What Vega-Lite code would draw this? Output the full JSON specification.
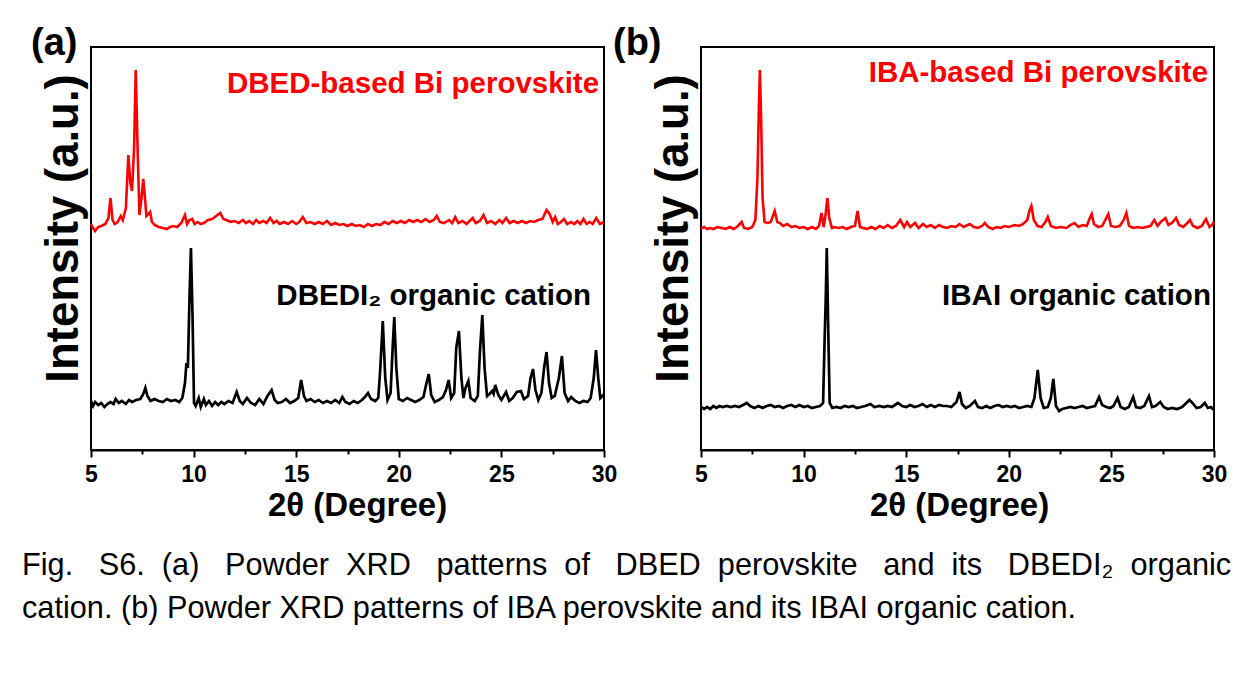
{
"$schema":"https://vega.github.io/schema/vega-lite/v6.json",
"background":"white",
"padding":{"left":22,"top":24,"right":10,"bottom":10},
"config":{"view":{"stroke":"black","strokeWidth":2},"font":"Liberation Sans","axis":{"grid":false}},
"datasets":{
"aRed":[{"x":5.0,"y":226},{"x":5.1,"y":222},{"x":5.2,"y":219},{"x":5.35,"y":223},{"x":5.5,"y":224},{"x":5.7,"y":226},{"x":5.85,"y":232},{"x":5.95,"y":252},{"x":6.05,"y":230},{"x":6.15,"y":226},{"x":6.3,"y":228},{"x":6.45,"y":234},{"x":6.55,"y":230},{"x":6.7,"y":242},{"x":6.82,"y":295},{"x":6.92,"y":267},{"x":7.0,"y":259},{"x":7.1,"y":302},{"x":7.18,"y":380},{"x":7.27,"y":302},{"x":7.36,"y":235},{"x":7.46,"y":252},{"x":7.55,"y":271},{"x":7.63,"y":252},{"x":7.7,"y":234},{"x":7.8,"y":236},{"x":7.88,"y":238},{"x":7.97,"y":228},{"x":8.1,"y":225},{"x":8.3,"y":223},{"x":8.5,"y":222},{"x":8.7,"y":221},{"x":8.85,"y":223},{"x":9.0,"y":224},{"x":9.2,"y":223},{"x":9.4,"y":227},{"x":9.58,"y":235},{"x":9.68,"y":226},{"x":9.8,"y":230},{"x":9.93,"y":231},{"x":10.05,"y":226},{"x":10.2,"y":228},{"x":10.35,"y":226},{"x":10.5,"y":227},{"x":10.7,"y":230},{"x":10.9,"y":231},{"x":11.1,"y":234},{"x":11.3,"y":237},{"x":11.45,"y":231},{"x":11.6,"y":230},{"x":11.8,"y":228},{"x":12.0,"y":229},{"x":12.2,"y":227},{"x":12.4,"y":230},{"x":12.55,"y":227},{"x":12.7,"y":229},{"x":12.9,"y":226},{"x":13.05,"y":230},{"x":13.2,"y":227},{"x":13.4,"y":229},{"x":13.55,"y":227},{"x":13.73,"y":232},{"x":13.9,"y":227},{"x":14.05,"y":229},{"x":14.2,"y":226},{"x":14.4,"y":228},{"x":14.6,"y":226},{"x":14.8,"y":229},{"x":15.0,"y":226},{"x":15.15,"y":228},{"x":15.32,"y":233},{"x":15.5,"y":227},{"x":15.7,"y":228},{"x":15.9,"y":226},{"x":16.1,"y":228},{"x":16.3,"y":226},{"x":16.5,"y":229},{"x":16.7,"y":225},{"x":16.9,"y":227},{"x":17.1,"y":225},{"x":17.3,"y":226},{"x":17.5,"y":224},{"x":17.7,"y":226},{"x":17.9,"y":224},{"x":18.1,"y":225},{"x":18.3,"y":223},{"x":18.5,"y":226},{"x":18.7,"y":224},{"x":18.9,"y":226},{"x":19.1,"y":225},{"x":19.3,"y":228},{"x":19.5,"y":226},{"x":19.7,"y":229},{"x":19.9,"y":227},{"x":20.1,"y":229},{"x":20.3,"y":227},{"x":20.5,"y":230},{"x":20.7,"y":228},{"x":20.9,"y":230},{"x":21.1,"y":228},{"x":21.3,"y":231},{"x":21.5,"y":228},{"x":21.7,"y":230},{"x":21.85,"y":234},{"x":22.0,"y":228},{"x":22.2,"y":227},{"x":22.45,"y":230},{"x":22.6,"y":227},{"x":22.75,"y":233},{"x":22.9,"y":227},{"x":23.1,"y":229},{"x":23.3,"y":226},{"x":23.45,"y":229},{"x":23.6,"y":232},{"x":23.75,"y":227},{"x":23.95,"y":229},{"x":24.13,"y":235},{"x":24.3,"y":227},{"x":24.5,"y":229},{"x":24.7,"y":226},{"x":24.9,"y":230},{"x":25.05,"y":227},{"x":25.23,"y":232},{"x":25.4,"y":227},{"x":25.6,"y":229},{"x":25.8,"y":227},{"x":26.0,"y":229},{"x":26.2,"y":227},{"x":26.4,"y":229},{"x":26.6,"y":228},{"x":26.8,"y":230},{"x":27.0,"y":231},{"x":27.2,"y":240},{"x":27.35,"y":236},{"x":27.5,"y":228},{"x":27.62,"y":233},{"x":27.75,"y":226},{"x":27.9,"y":228},{"x":28.05,"y":231},{"x":28.2,"y":226},{"x":28.4,"y":228},{"x":28.55,"y":226},{"x":28.7,"y":229},{"x":28.85,"y":226},{"x":29.0,"y":231},{"x":29.15,"y":226},{"x":29.3,"y":228},{"x":29.45,"y":226},{"x":29.62,"y":232},{"x":29.8,"y":226},{"x":30.0,"y":228}],
"aBlack":[{"x":5.0,"y":49},{"x":5.1,"y":44},{"x":5.2,"y":48},{"x":5.35,"y":45},{"x":5.5,"y":47},{"x":5.65,"y":43},{"x":5.8,"y":46},{"x":5.95,"y":48},{"x":6.1,"y":46},{"x":6.2,"y":51},{"x":6.35,"y":47},{"x":6.5,"y":49},{"x":6.7,"y":46},{"x":6.85,"y":50},{"x":7.0,"y":48},{"x":7.2,"y":50},{"x":7.4,"y":51},{"x":7.55,"y":56},{"x":7.65,"y":62},{"x":7.75,"y":54},{"x":7.9,"y":49},{"x":8.1,"y":51},{"x":8.3,"y":49},{"x":8.5,"y":48},{"x":8.7,"y":51},{"x":8.9,"y":49},{"x":9.1,"y":50},{"x":9.3,"y":48},{"x":9.45,"y":52},{"x":9.58,"y":67},{"x":9.65,"y":87},{"x":9.72,"y":82},{"x":9.8,"y":152},{"x":9.87,"y":202},{"x":9.95,"y":132},{"x":10.02,"y":47},{"x":10.1,"y":44},{"x":10.25,"y":52},{"x":10.35,"y":43},{"x":10.5,"y":51},{"x":10.6,"y":45},{"x":10.75,"y":49},{"x":10.9,"y":44},{"x":11.05,"y":48},{"x":11.2,"y":45},{"x":11.35,"y":48},{"x":11.5,"y":46},{"x":11.7,"y":49},{"x":11.9,"y":47},{"x":12.1,"y":58},{"x":12.25,"y":49},{"x":12.4,"y":46},{"x":12.6,"y":52},{"x":12.8,"y":47},{"x":13.0,"y":45},{"x":13.2,"y":51},{"x":13.4,"y":46},{"x":13.6,"y":54},{"x":13.8,"y":60},{"x":13.95,"y":50},{"x":14.1,"y":47},{"x":14.3,"y":48},{"x":14.5,"y":51},{"x":14.7,"y":47},{"x":14.9,"y":49},{"x":15.1,"y":52},{"x":15.24,"y":70},{"x":15.38,"y":54},{"x":15.5,"y":49},{"x":15.7,"y":51},{"x":15.9,"y":48},{"x":16.1,"y":50},{"x":16.3,"y":47},{"x":16.5,"y":49},{"x":16.7,"y":47},{"x":16.9,"y":50},{"x":17.1,"y":47},{"x":17.25,"y":53},{"x":17.4,"y":48},{"x":17.6,"y":46},{"x":17.8,"y":49},{"x":18.0,"y":47},{"x":18.2,"y":50},{"x":18.35,"y":53},{"x":18.5,"y":57},{"x":18.65,"y":51},{"x":18.85,"y":49},{"x":19.0,"y":52},{"x":19.1,"y":82},{"x":19.22,"y":129},{"x":19.34,"y":72},{"x":19.45,"y":50},{"x":19.6,"y":57},{"x":19.7,"y":102},{"x":19.78,"y":133},{"x":19.88,"y":82},{"x":20.0,"y":51},{"x":20.2,"y":49},{"x":20.4,"y":52},{"x":20.6,"y":50},{"x":20.8,"y":48},{"x":21.0,"y":50},{"x":21.2,"y":53},{"x":21.35,"y":67},{"x":21.46,"y":76},{"x":21.58,"y":55},{"x":21.75,"y":48},{"x":21.95,"y":50},{"x":22.15,"y":53},{"x":22.3,"y":60},{"x":22.43,"y":70},{"x":22.55,"y":52},{"x":22.7,"y":57},{"x":22.8,"y":102},{"x":22.93,"y":119},{"x":23.05,"y":72},{"x":23.15,"y":52},{"x":23.25,"y":62},{"x":23.39,"y":69},{"x":23.5,"y":52},{"x":23.7,"y":49},{"x":23.85,"y":54},{"x":23.95,"y":97},{"x":24.07,"y":135},{"x":24.18,"y":82},{"x":24.3,"y":54},{"x":24.42,"y":56},{"x":24.55,"y":59},{"x":24.62,"y":56},{"x":24.7,"y":65},{"x":24.85,"y":55},{"x":25.0,"y":50},{"x":25.23,"y":58},{"x":25.38,"y":49},{"x":25.55,"y":52},{"x":25.75,"y":58},{"x":25.95,"y":59},{"x":26.1,"y":51},{"x":26.3,"y":54},{"x":26.42,"y":72},{"x":26.54,"y":81},{"x":26.66,"y":60},{"x":26.8,"y":50},{"x":26.95,"y":57},{"x":27.08,"y":82},{"x":27.2,"y":98},{"x":27.32,"y":67},{"x":27.45,"y":52},{"x":27.6,"y":54},{"x":27.8,"y":72},{"x":27.95,"y":94},{"x":28.08,"y":57},{"x":28.25,"y":49},{"x":28.4,"y":53},{"x":28.6,"y":49},{"x":28.8,"y":47},{"x":29.0,"y":49},{"x":29.2,"y":48},{"x":29.35,"y":52},{"x":29.5,"y":72},{"x":29.61,"y":100},{"x":29.72,"y":72},{"x":29.82,"y":52},{"x":29.92,"y":54},{"x":30.0,"y":56}],
"bRed":[{"x":5.0,"y":221},{"x":5.15,"y":223},{"x":5.3,"y":221},{"x":5.45,"y":222},{"x":5.6,"y":221},{"x":5.8,"y":223},{"x":6.0,"y":222},{"x":6.2,"y":221},{"x":6.4,"y":223},{"x":6.6,"y":221},{"x":6.8,"y":224},{"x":6.98,"y":228},{"x":7.1,"y":222},{"x":7.3,"y":221},{"x":7.5,"y":223},{"x":7.65,"y":230},{"x":7.75,"y":272},{"x":7.82,"y":342},{"x":7.87,"y":380},{"x":7.93,"y":332},{"x":8.0,"y":252},{"x":8.1,"y":228},{"x":8.25,"y":227},{"x":8.4,"y":228},{"x":8.59,"y":239},{"x":8.72,"y":228},{"x":8.85,"y":227},{"x":9.0,"y":224},{"x":9.2,"y":226},{"x":9.4,"y":223},{"x":9.6,"y":224},{"x":9.8,"y":222},{"x":10.0,"y":223},{"x":10.2,"y":221},{"x":10.4,"y":223},{"x":10.6,"y":221},{"x":10.75,"y":224},{"x":10.87,"y":237},{"x":10.98,"y":223},{"x":11.08,"y":237},{"x":11.16,"y":252},{"x":11.25,"y":232},{"x":11.38,"y":222},{"x":11.5,"y":223},{"x":11.7,"y":222},{"x":11.9,"y":223},{"x":12.1,"y":221},{"x":12.3,"y":223},{"x":12.5,"y":224},{"x":12.63,"y":239},{"x":12.75,"y":223},{"x":12.9,"y":222},{"x":13.1,"y":221},{"x":13.3,"y":223},{"x":13.5,"y":221},{"x":13.7,"y":224},{"x":13.9,"y":222},{"x":14.1,"y":225},{"x":14.3,"y":222},{"x":14.5,"y":224},{"x":14.71,"y":230},{"x":14.9,"y":223},{"x":15.04,"y":228},{"x":15.2,"y":223},{"x":15.43,"y":227},{"x":15.6,"y":222},{"x":15.82,"y":226},{"x":16.0,"y":223},{"x":16.2,"y":225},{"x":16.4,"y":222},{"x":16.6,"y":225},{"x":16.8,"y":223},{"x":17.0,"y":222},{"x":17.2,"y":224},{"x":17.4,"y":223},{"x":17.6,"y":226},{"x":17.8,"y":223},{"x":18.0,"y":225},{"x":18.1,"y":226},{"x":18.3,"y":223},{"x":18.5,"y":222},{"x":18.7,"y":224},{"x":18.83,"y":227},{"x":19.0,"y":223},{"x":19.2,"y":221},{"x":19.4,"y":223},{"x":19.6,"y":222},{"x":19.8,"y":224},{"x":20.0,"y":223},{"x":20.29,"y":225},{"x":20.5,"y":224},{"x":20.7,"y":226},{"x":20.9,"y":230},{"x":21.0,"y":239},{"x":21.1,"y":244},{"x":21.22,"y":230},{"x":21.4,"y":224},{"x":21.6,"y":223},{"x":21.78,"y":228},{"x":21.9,"y":233},{"x":22.05,"y":224},{"x":22.3,"y":222},{"x":22.5,"y":223},{"x":22.81,"y":222},{"x":23.0,"y":225},{"x":23.2,"y":227},{"x":23.4,"y":223},{"x":23.6,"y":225},{"x":23.8,"y":224},{"x":23.95,"y":232},{"x":24.04,"y":236},{"x":24.15,"y":226},{"x":24.35,"y":223},{"x":24.55,"y":224},{"x":24.75,"y":232},{"x":24.85,"y":236},{"x":24.98,"y":224},{"x":25.2,"y":223},{"x":25.4,"y":224},{"x":25.6,"y":230},{"x":25.73,"y":237},{"x":25.86,"y":224},{"x":26.05,"y":222},{"x":26.3,"y":223},{"x":26.5,"y":222},{"x":26.7,"y":223},{"x":26.9,"y":224},{"x":27.09,"y":230},{"x":27.25,"y":224},{"x":27.4,"y":228},{"x":27.63,"y":232},{"x":27.78,"y":225},{"x":27.95,"y":227},{"x":28.15,"y":232},{"x":28.3,"y":225},{"x":28.5,"y":223},{"x":28.65,"y":226},{"x":28.83,"y":230},{"x":28.98,"y":224},{"x":29.2,"y":222},{"x":29.4,"y":224},{"x":29.61,"y":231},{"x":29.78,"y":223},{"x":29.9,"y":225},{"x":30.0,"y":228}],
"bBlack":[{"x":5.0,"y":43},{"x":5.15,"y":41},{"x":5.3,"y":43},{"x":5.45,"y":41},{"x":5.6,"y":44},{"x":5.75,"y":42},{"x":5.9,"y":44},{"x":6.05,"y":43},{"x":6.25,"y":44},{"x":6.45,"y":43},{"x":6.65,"y":44},{"x":6.85,"y":43},{"x":7.05,"y":45},{"x":7.23,"y":47},{"x":7.4,"y":44},{"x":7.6,"y":42},{"x":7.8,"y":44},{"x":8.0,"y":42},{"x":8.2,"y":44},{"x":8.4,"y":45},{"x":8.6,"y":43},{"x":8.8,"y":44},{"x":9.0,"y":42},{"x":9.2,"y":44},{"x":9.4,"y":45},{"x":9.6,"y":43},{"x":9.8,"y":45},{"x":10.0,"y":43},{"x":10.2,"y":44},{"x":10.4,"y":42},{"x":10.6,"y":43},{"x":10.8,"y":44},{"x":10.95,"y":47},{"x":11.02,"y":107},{"x":11.08,"y":152},{"x":11.13,"y":202},{"x":11.2,"y":122},{"x":11.27,"y":47},{"x":11.4,"y":42},{"x":11.6,"y":43},{"x":11.8,"y":42},{"x":12.0,"y":44},{"x":12.2,"y":43},{"x":12.4,"y":44},{"x":12.6,"y":42},{"x":12.8,"y":43},{"x":13.0,"y":44},{"x":13.26,"y":46},{"x":13.45,"y":43},{"x":13.7,"y":44},{"x":13.9,"y":43},{"x":14.1,"y":44},{"x":14.3,"y":43},{"x":14.6,"y":47},{"x":14.8,"y":44},{"x":15.0,"y":43},{"x":15.2,"y":45},{"x":15.4,"y":43},{"x":15.6,"y":44},{"x":15.8,"y":46},{"x":16.0,"y":43},{"x":16.2,"y":45},{"x":16.4,"y":43},{"x":16.6,"y":45},{"x":16.8,"y":44},{"x":17.0,"y":44},{"x":17.2,"y":43},{"x":17.45,"y":48},{"x":17.6,"y":58},{"x":17.72,"y":46},{"x":17.9,"y":42},{"x":18.1,"y":44},{"x":18.35,"y":49},{"x":18.5,"y":43},{"x":18.7,"y":42},{"x":18.9,"y":44},{"x":19.1,"y":42},{"x":19.3,"y":44},{"x":19.5,"y":45},{"x":19.7,"y":43},{"x":19.9,"y":44},{"x":20.1,"y":43},{"x":20.3,"y":44},{"x":20.5,"y":42},{"x":20.7,"y":43},{"x":20.9,"y":44},{"x":21.1,"y":43},{"x":21.25,"y":52},{"x":21.41,"y":80},{"x":21.55,"y":52},{"x":21.7,"y":42},{"x":21.9,"y":43},{"x":22.05,"y":52},{"x":22.17,"y":71},{"x":22.3,"y":44},{"x":22.45,"y":39},{"x":22.6,"y":41},{"x":22.8,"y":42},{"x":23.0,"y":43},{"x":23.2,"y":42},{"x":23.4,"y":43},{"x":23.6,"y":44},{"x":23.8,"y":42},{"x":24.0,"y":43},{"x":24.2,"y":44},{"x":24.4,"y":53},{"x":24.55,"y":45},{"x":24.75,"y":43},{"x":24.95,"y":42},{"x":25.1,"y":44},{"x":25.3,"y":52},{"x":25.45,"y":43},{"x":25.65,"y":41},{"x":25.85,"y":43},{"x":26.06,"y":53},{"x":26.2,"y":43},{"x":26.4,"y":42},{"x":26.6,"y":44},{"x":26.83,"y":54},{"x":26.98,"y":43},{"x":27.15,"y":44},{"x":27.38,"y":48},{"x":27.55,"y":43},{"x":27.75,"y":41},{"x":27.95,"y":42},{"x":28.2,"y":41},{"x":28.45,"y":43},{"x":28.65,"y":47},{"x":28.8,"y":50},{"x":28.95,"y":47},{"x":29.15,"y":42},{"x":29.35,"y":43},{"x":29.55,"y":47},{"x":29.7,"y":42},{"x":29.85,"y":43},{"x":30.0,"y":40}],
"aLabels":[{"s":"perovskite","label":"DBED-based Bi perovskite","x":29.76,"y":366},{"s":"cation","label":"DBEDI₂ organic cation","x":29.37,"y":154}],
"bLabels":[{"s":"perovskite","label":"IBA-based Bi perovskite","x":29.71,"y":377},{"s":"cation","label":"IBAI organic cation","x":29.85,"y":154}]
},
"title":{"text":["Fig. \u00a0\u00a0S6. \u00a0(a) \u00a0\u00a0Powder \u00a0XRD \u00a0\u00a0patterns \u00a0of \u00a0\u00a0DBED \u00a0perovskite \u00a0\u00a0and \u00a0its \u00a0\u00a0DBEDI₂ \u00a0organic","cation. (b) Powder XRD patterns of IBA perovskite and its IBAI organic cation."],"orient":"bottom","anchor":"start","frame":"bounds","font":"Liberation Sans","fontSize":30.7,"fontWeight":"normal","color":"black","lineHeight":43,"offset":28,"dx":-8},
"bounds":"flush",
"spacing":97,
"hconcat":[
{"width":513,"height":403,
"title":{"text":"(a)","anchor":"start","frame":"group","font":"Liberation Sans","fontSize":38,"fontWeight":"bold","color":"black","dx":-60,"offset":-16},
"encoding":{
"x":{"field":"x","type":"quantitative","title":"2θ (Degree)","scale":{"domain":[5,30],"nice":false,"zero":false},"axis":{"values":[5,7.5,10,12.5,15,17.5,20,22.5,25,27.5,30],"labelExpr":"datum.value % 5 === 0 ? datum.label : ''","tickSize":{"condition":{"test":"datum.value % 5 === 0","value":7},"value":4},"tickWidth":2,"tickColor":"black","domainColor":"black","domainWidth":2,"labelFont":"Liberation Sans","labelFontWeight":"bold","labelFontSize":23,"labelColor":"black","labelPadding":6,"labelFlush":false,"labelOverlap":false,"titleFont":"Liberation Sans","titleFontWeight":"bold","titleFontSize":33,"titleColor":"black","titlePadding":3,"titleX":266,"grid":false}},
"y":{"field":"y","type":"quantitative","title":"Intensity (a.u.)","scale":{"domain":[0,403],"nice":false},"axis":{"labels":false,"ticks":false,"domain":false,"grid":false,"titleFont":"Liberation Sans","titleFontWeight":"bold","titleFontSize":45.5,"titleColor":"black","titlePadding":4,"titleY":181}}
},
"layer":[
{"data":{"name":"aBlack"},"mark":{"type":"line","color":"black","strokeWidth":2.7}},
{"data":{"name":"aRed"},"mark":{"type":"line","color":"#ff0000","strokeWidth":2.6}},
{"data":{"name":"aLabels"},"mark":{"type":"text","align":"right","baseline":"middle","font":"Liberation Sans","fontWeight":"bold","fontSize":29.5},"encoding":{"text":{"field":"label"},"color":{"field":"s","type":"nominal","scale":{"domain":["perovskite","cation"],"range":["#ff0000","#000000"]},"legend":null}}}
]},
{"width":513,"height":403,
"title":{"text":"(b)","anchor":"start","frame":"group","font":"Liberation Sans","fontSize":38,"fontWeight":"bold","color":"black","dx":-88,"offset":-16},
"encoding":{
"x":{"field":"x","type":"quantitative","title":"2θ (Degree)","scale":{"domain":[5,30],"nice":false,"zero":false},"axis":{"values":[5,7.5,10,12.5,15,17.5,20,22.5,25,27.5,30],"labelExpr":"datum.value % 5 === 0 ? datum.label : ''","tickSize":{"condition":{"test":"datum.value % 5 === 0","value":7},"value":4},"tickWidth":2,"tickColor":"black","domainColor":"black","domainWidth":2,"labelFont":"Liberation Sans","labelFontWeight":"bold","labelFontSize":23,"labelColor":"black","labelPadding":6,"labelFlush":false,"labelOverlap":false,"titleFont":"Liberation Sans","titleFontWeight":"bold","titleFontSize":33,"titleColor":"black","titlePadding":3,"titleX":258,"grid":false}},
"y":{"field":"y","type":"quantitative","title":"Intensity (a.u.)","scale":{"domain":[0,403],"nice":false},"axis":{"labels":false,"ticks":false,"domain":false,"grid":false,"titleFont":"Liberation Sans","titleFontWeight":"bold","titleFontSize":45.5,"titleColor":"black","titlePadding":4,"titleY":181}}
},
"layer":[
{"data":{"name":"bBlack"},"mark":{"type":"line","color":"black","strokeWidth":2.7}},
{"data":{"name":"bRed"},"mark":{"type":"line","color":"#ff0000","strokeWidth":2.6}},
{"data":{"name":"bLabels"},"mark":{"type":"text","align":"right","baseline":"middle","font":"Liberation Sans","fontWeight":"bold","fontSize":29.5},"encoding":{"text":{"field":"label"},"color":{"field":"s","type":"nominal","scale":{"domain":["perovskite","cation"],"range":["#ff0000","#000000"]},"legend":null}}}
]}
]
}
